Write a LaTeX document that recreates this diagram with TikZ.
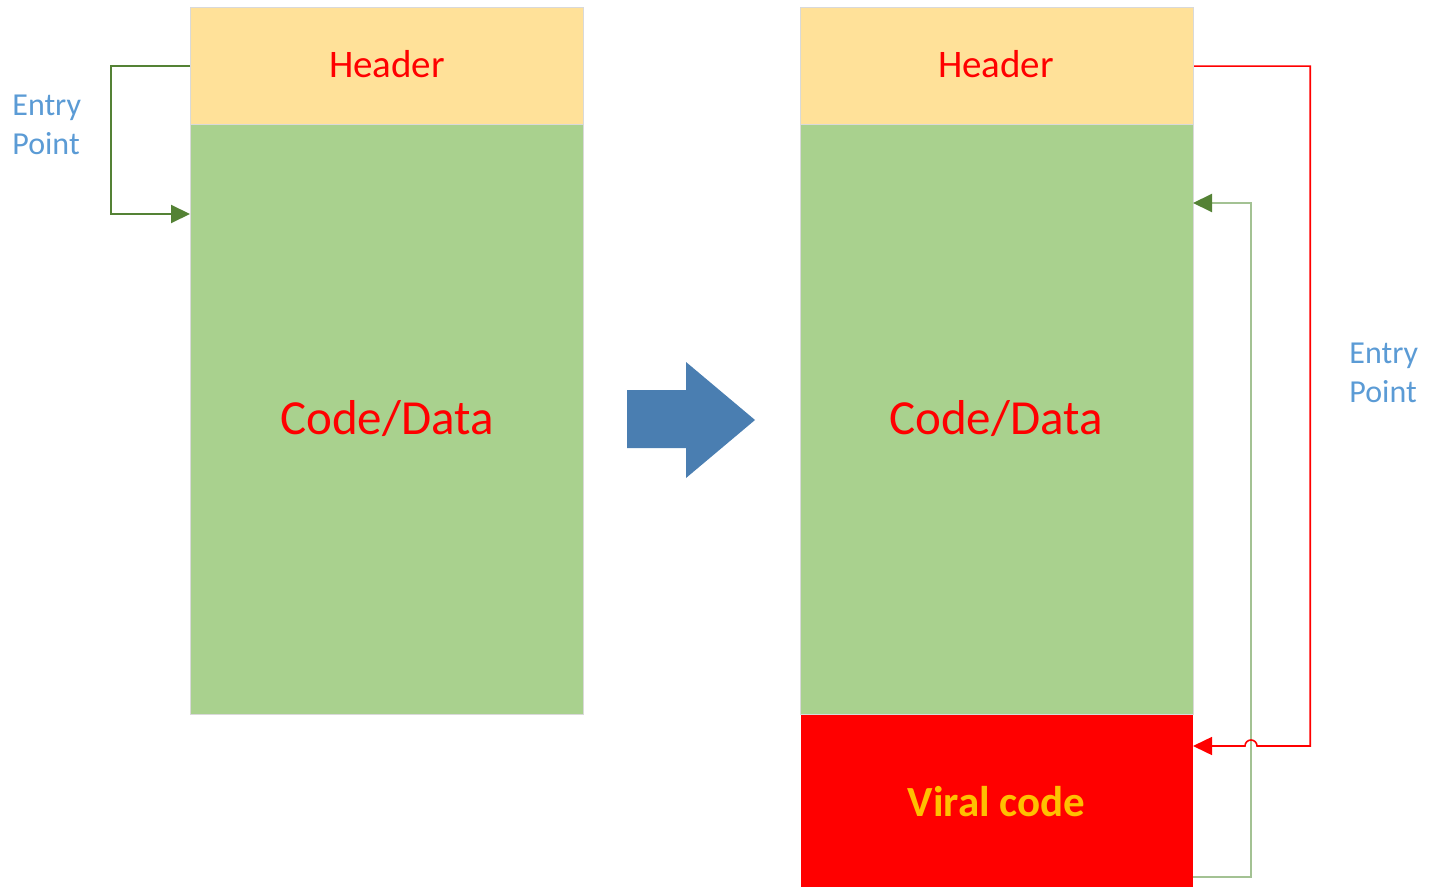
\documentclass[tikz,border=0pt]{standalone}
\usepackage{fontspec}
\setmainfont{Carlito}
\usetikzlibrary{arrows.meta}
\definecolor{hdrfill}{HTML}{FFE199}
\definecolor{codefill}{HTML}{A9D18E}
\definecolor{virfill}{HTML}{FF0000}
\definecolor{virtext}{HTML}{FFC000}
\definecolor{entryblue}{HTML}{5B9BD5}
\definecolor{gdark}{HTML}{548235}
\definecolor{glight}{HTML}{A3C293}
\definecolor{bigarrow}{HTML}{4A7EB1}
\tikzset{
  block/.style={rectangle, anchor=north west, inner sep=0pt, draw=black!15, line width=0.6pt},
  hdrbox/.style={block, fill=hdrfill, minimum width=196.5pt, minimum height=58.5pt},
  codebox/.style={block, fill=codefill, minimum width=196.5pt, minimum height=295pt},
  virbox/.style={block, fill=virfill, draw=none, minimum width=196pt, minimum height=86.5pt,
    text=virtext, font=\bfseries\fontsize{21.5}{25}\selectfont},
  hdrtext/.style={text=red, font=\fontsize{19.5}{23}\selectfont},
  codetext/.style={text=red, font=\fontsize{24.5}{29}\selectfont},
  entrylbl/.style={anchor=west, inner sep=0pt, align=left, text=entryblue,
    font=\fontsize{16}{19.5}\selectfont},
  tip/.style={-{Triangle[length=9.5pt,width=9pt]}},
  glink/.style={draw=gdark, line width=1pt, tip},
  gpale/.style={draw=glight, line width=1.1pt, -{Triangle[length=9.5pt,width=9pt,color=gdark]}},
  rlink/.style={draw=red, line width=0.8pt, tip},
}
\begin{document}
\begin{tikzpicture}[x=0.5pt, y=-0.5pt]
  \useasboundingbox (0,0) rectangle (1433,887);

  % file before infection
  \node[codebox] (c1) at (190,124) {};
  \node[hdrbox]  (h1) at (190,7) {};
  \node[hdrtext] (t1) at (387,64.5) {Header};
  \node[codetext] (d1) at (387,419) {Code/Data};

  % file after infection
  \node[codebox] (c2) at (800,124) {};
  \node[hdrbox]  (h2) at (800,7) {};
  \node[virbox]  (v2) at (800,714) {Viral code};
  \node[hdrtext] (t2) at (996,64.5) {Header};
  \node[codetext] (d2) at (996,419) {Code/Data};

  % entry point labels
  \node[entrylbl] (ep1) at (12,124.5) {Entry\\Point};
  \node[entrylbl] (ep2) at (1349,372.5) {Entry\\Point};

  % connector end points
  \coordinate (e1) at (190,214);
  \coordinate (e2) at (1193,203);
  \coordinate (e3) at (1193,746);
  \coordinate (g1) at (1193,877);
  \coordinate (hop) at (1251,746);

  % original entry point
  \draw[glink] (h1.west) -- ++(-79,0) |- (e1);

  % old entry point, now reached from the viral code
  \draw[gpale] (g1) -- ++(58,0) |- (e2);

  % new entry point into the viral code
  \draw[rlink] (h2.east) -- ++(116,0) |- ([xshift=3pt]hop)
    arc[start angle=0, end angle=180, radius=3pt] -- (e3);

  % transformation arrow
  \fill[bigarrow] (627,390) -- (686,390) -- (686,362) -- (755,420)
    -- (686,478) -- (686,448) -- (627,448) -- cycle;
\end{tikzpicture}
\end{document}
